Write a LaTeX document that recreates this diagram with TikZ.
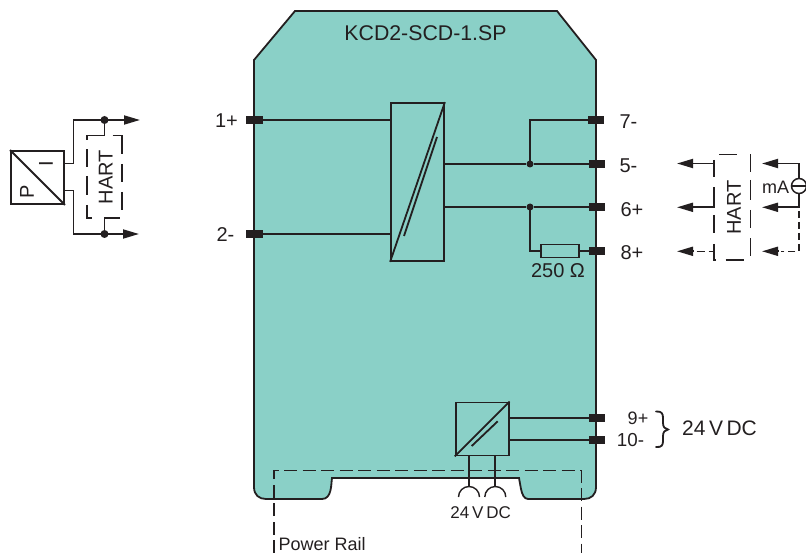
\documentclass[tikz,border=0pt]{standalone}
\usepackage{fontspec}
\setmainfont{Liberation Sans}
\usetikzlibrary{arrows.meta}
\definecolor{teal1}{HTML}{8AD0C7}
\definecolor{ink}{HTML}{231F20}
\tikzset{
  wire/.style={draw=ink,line width=1.8pt},
  thinw/.style={draw=ink,line width=1.4pt},
  terminal/.style={fill=ink,draw=none,minimum width=16pt,minimum height=8pt,inner sep=0pt},
  dot/.style={circle,fill=ink,draw=none,minimum size=7.5pt,inner sep=0pt},
  conv/.style={draw=ink,line width=1.8pt,fill=none,inner sep=0pt},
  lab/.style={text=ink,font=\fontsize{20}{20}\selectfont,inner sep=0pt},
  small/.style={text=ink,font=\fontsize{18}{18}\selectfont,inner sep=0pt},
  tip/.style={-{Triangle[length=16pt,width=9pt]}},
  rail/.style={draw=ink,line width=1.4pt,dash pattern=on 13pt off 5.5pt},
  hart/.style={draw=ink,line width=1.5pt},
}
\begin{document}
\begin{tikzpicture}[x=1pt,y=-1pt]
\useasboundingbox (0,0) rectangle (806,553);
% housing
\draw[wire,fill=teal1] (295,11) -- (557,11) -- (596,60) -- (596,487)
  .. controls (596,495) and (591,499) .. (584,499) -- (528,499)
  .. controls (524,499) and (522,494) .. (521,489) -- (519,478) -- (332,478)
  .. controls (331,484) and (332,499) .. (322,499) -- (266,499)
  .. controls (259,499) and (254,495) .. (254,487) -- (254,60) -- cycle;
\node[lab,font=\fontsize{21.3}{21}\selectfont] (title) at (425.5,33) {KCD2-SCD-1.SP};
% terminals
\node[terminal,minimum width=17pt] (t1) at (254.5,120) {};
\node[terminal,minimum width=17pt] (t2) at (254.5,234) {};
\node[terminal] (t7) at (596,120) {};
\node[terminal] (t5) at (597,164) {};
\node[terminal] (t6) at (597,207) {};
\node[terminal] (t8) at (597,251) {};
\node[terminal] (t9) at (597,418) {};
\node[terminal] (t10) at (597,440) {};
% terminal labels
\node[lab] at (226.5,120.5) {1+};
\node[lab] at (225.5,234.5) {2-};
\node[lab] at (628.5,121.5) {7-};
\node[lab] at (628.5,165.5) {5-};
\node[lab] at (632,209.5) {6+};
\node[lab] at (632,253) {8+};
\node[small] at (638,418) {9+};
\node[small,font=\fontsize{18.8}{19}\selectfont] at (630.5,440) {10-};
% main isolator
\node[conv,minimum width=53pt,minimum height=158pt] (iso) at (417.5,182) {};
\draw[wire] (iso.south west) -- (iso.north east);
\draw[wire] (404,236) -- (437,137);
\coordinate (i1) at (391,120);
\coordinate (i2) at (391,234);
\draw[wire] (t1.east) -- (i1);
\draw[wire] (t2.east) -- (i2);
\coordinate (o5) at (444,164);
\coordinate (o6) at (444,207);
\node[dot,minimum size=7pt] (j5) at (530,164) {};
\node[dot,minimum size=7pt] (j6) at (530,207) {};
\draw[wire] (o5) -- (j5) -- (t5.west);
\draw[wire] (o6) -- (j6) -- (t6.west);
\draw[wire] (j5.center) |- (t7.west);
\node[conv,minimum width=38.5pt,minimum height=13pt] (res) at (560,251) {};
\draw[wire] (j6.center) |- (res.west);
\draw[wire] (res.east) -- (t8.west);
\node[lab] at (558,270.5) {250 Ω};
% supply converter
\node[conv,minimum width=53pt,minimum height=53pt] (psu) at (482.2,429) {};
\draw[wire] (psu.south west) -- (psu.north east);
\draw[wire] (471.7,446) -- (497.7,421.3);
\coordinate (p9) at (psu.east |- t9);
\coordinate (p10) at (psu.east |- t10);
\draw[wire] (p9) -- (t9.west);
\draw[wire] (p10) -- (t10.west);
\coordinate (s1) at (469,487);
\coordinate (s2) at (495.3,487);
\draw[wire] (s1 |- psu.south) -- (s1);
\draw[wire] (s2 |- psu.south) -- (s2);
\draw[thinw] (458.5,497) arc[start angle=180,end angle=360,radius=10.5];
\draw[thinw] (484.8,497) arc[start angle=180,end angle=360,radius=10.5];
\node[text=ink,inner sep=0pt,font=\fontsize{17}{17}\selectfont] at (480.7,513) {24\,V\,DC};
% power rail
\draw[rail] (274,553) -- (274,470.7) -- (581.3,470.7) -- (581.3,553);
\node[small,anchor=west] at (278.5,544) {Power Rail};
% supply label
\coordinate (bt) at (656,411.5);
\coordinate (bb) at (656,447);
\draw[wire,line cap=round] (bt) .. controls (662,411) and (663,414) .. (663,418) -- (663,423)
  .. controls (663,427) and (665,429) .. (668,429.5)
  .. controls (665,430) and (663,432) .. (663,436) -- (663,441)
  .. controls (663,445) and (662,447.5) .. (bb);
\node[lab,anchor=west,font=\fontsize{21}{21}\selectfont] at (682,428) {24\,V\,DC};
% transmitter
\node[conv,minimum width=53pt,minimum height=53pt] (tx) at (37.5,177.5) {};
\draw[wire] (tx.north west) -- (tx.south east);
\node[lab,rotate=90] at (27,191.5) {P};
\node[lab,rotate=90] at (46,164) {I};
\coordinate (a1) at (140,120);
\coordinate (a2) at (139,234);
\node[dot,minimum size=8pt] (j1) at (104.5,120) {};
\node[dot,minimum size=8pt] (j2) at (104.5,234) {};
\draw[wire] (64,163.5) -- (73.5,163.5) |- (j1.center);
\draw[wire] (64,190.5) -- (73.5,190.5) |- (j2.center);
\draw[wire,tip] (j1.center) -- (a1);
\draw[wire,tip] (j2.center) -- (a2);
\draw[hart] (j1.center) -- (104.5,135.5) -- (87,135.5) -- (87,140);
\draw[hart] (j2.center) -- (104.5,218) -- (120,218);
\draw[hart] (112.7,135.5) -- (122,135.5) -- (122,154);
\draw[hart] (87,149.5) -- (87,167.5);
\draw[hart] (87,176) -- (87,195);
\draw[hart] (87,205) -- (87,218) -- (91.5,218);
\draw[hart] (122,164) -- (122,182);
\draw[hart] (122,192) -- (122,210);
\node[lab,rotate=90] at (105.7,177) {HART};
% loop side
\coordinate (b5) at (677,163.5);
\coordinate (b6) at (677,207.3);
\coordinate (b8) at (677,251.3);
\coordinate (c5) at (762,163.5);
\coordinate (c6) at (762,207.3);
\coordinate (c8) at (762,251.3);
\node[draw=ink,line width=1.5pt,circle,minimum size=15pt,inner sep=0pt] (ma) at (799,186) {};
\draw[hart] (ma.west) -- (ma.east);
\draw[wire,tip] (714,163.5) -- (b5);
\draw[hart] (714,160) -- (714,177.5);
\draw[wire,tip] (714,207.3) -- (b6);
\draw[hart] (714,187.5) -- (714,208);
\draw[wire,tip] (ma.north) |- (c5);
\draw[wire,tip] (ma.south) |- (c6);
\draw[hart] (714,215) -- (714,233.5);
\draw[hart] (714,244) -- (714,260) -- (716,260);
\draw[hart] (725.7,260) -- (744,260);
\draw[hart] (719,154.5) -- (737,154.5);
\draw[hart] (750.7,154.5) -- (750.7,172);
\draw[hart] (750.7,180) -- (750.7,200);
\draw[hart] (750.7,210) -- (750.7,228);
\draw[hart] (750.7,238.5) -- (750.7,256.5);
\draw[hart] (696.5,251.3) -- (705,251.3);
\draw[hart] (708.5,251.3) -- (714,251.3);
\draw[wire,tip] (693,251.3) -- (b8);
\draw[wire,tip] (778,251.3) -- (c8);
\draw[hart,dash pattern=on 7pt off 4pt] (799,211) -- (799,251.3) -- (781,251.3);
\node[text=ink,inner sep=0pt,font=\fontsize{18}{18}\selectfont] at (775.5,187.5) {mA};
\node[lab,rotate=90] at (734,207.5) {HART};
\end{tikzpicture}
\end{document}
